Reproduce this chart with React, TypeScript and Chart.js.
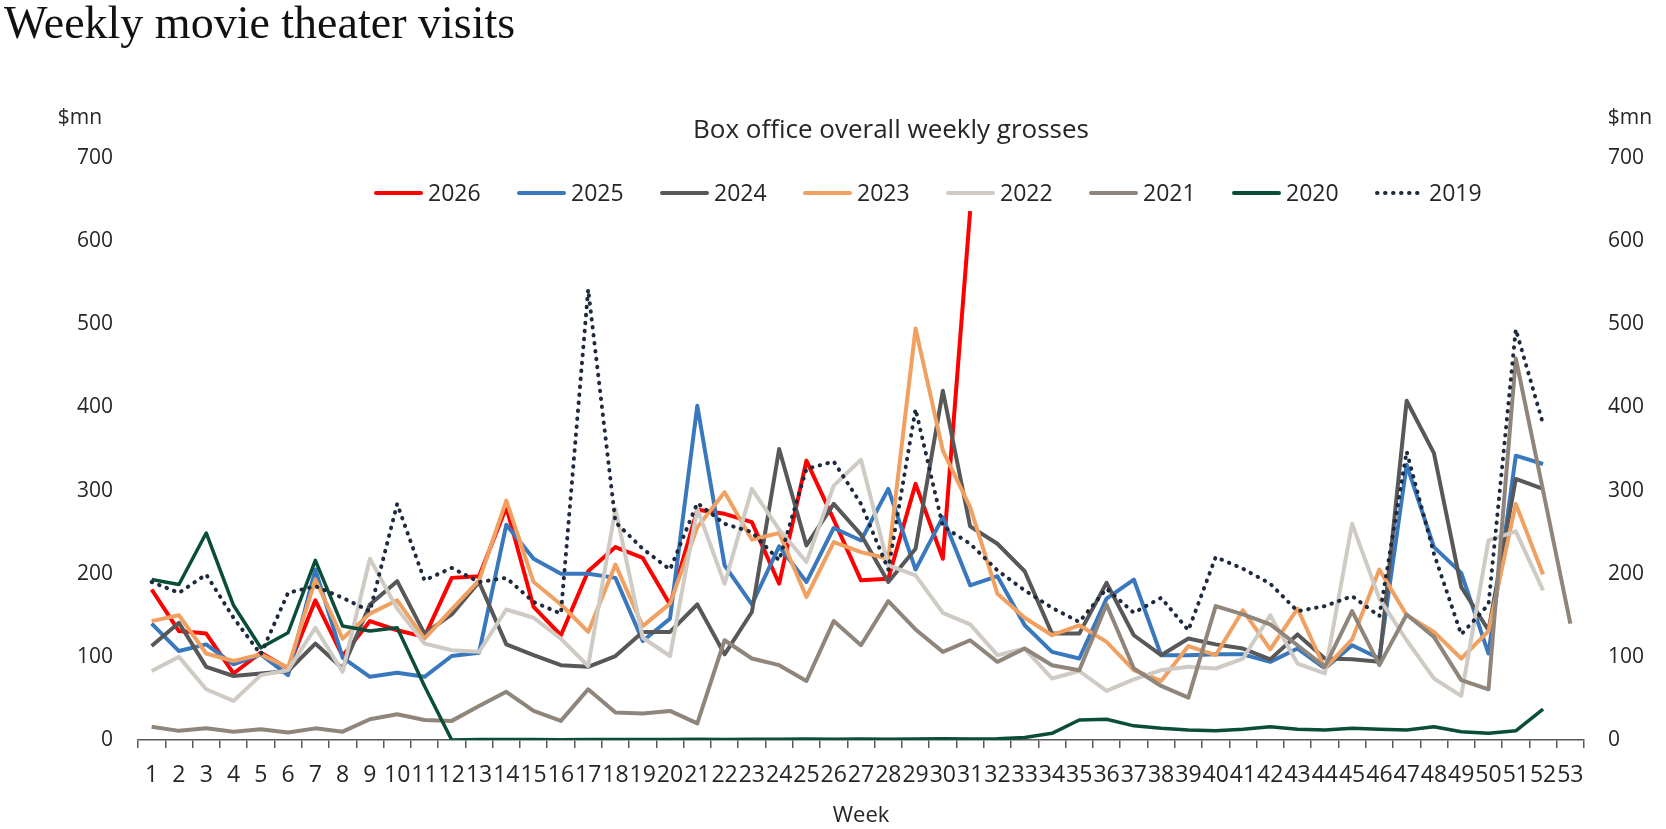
import { useEffect, useRef } from 'react';
import { Chart, registerables } from 'chart.js';

// Register Chart.js components
Chart.register(...registerables);

const chartTitle = 'Weekly movie theater visits';
const subtitle = 'Box office overall weekly grosses';
const unitLabel = '$mn';

const weeks = [
  '1', '2', '3', '4', '5', '6', '7', '8', '9', '10',
  '11', '12', '13', '14', '15', '16', '17', '18', '19', '20',
  '21', '22', '23', '24', '25', '26', '27', '28', '29', '30',
  '31', '32', '33', '34', '35', '36', '37', '38', '39', '40',
  '41', '42', '43', '44', '45', '46', '47', '48', '49', '50',
  '51', '52', '53'
];

const yTicks = [0, 100, 200, 300, 400, 500, 600, 700];

const y2026 = [181, 131, 128, 80, 105, 86, 168, 101, 143, 132, 124, 195, 197, 280, 160, 126, 203, 232, 219, 163, 277, 272, 262, 188, 336, 265, 192, 194, 308, 218, 636];
const y2025 = [140, 107, 115, 91, 103, 78, 205, 99, 76, 81, 76, 101, 105, 259, 218, 200, 200, 195, 119, 146, 402, 210, 163, 233, 190, 255, 240, 302, 205, 268, 186, 197, 138, 106, 98, 170, 193, 102, 102, 103, 103, 94, 110, 86, 114, 98, 331, 232, 201, 104, 342, 332];
const y2024 = [113, 141, 88, 77, 80, 83, 116, 86, 163, 191, 128, 151, 190, 115, 102, 90, 88, 101, 130, 130, 163, 103, 154, 350, 234, 284, 247, 190, 230, 420, 257, 236, 203, 128, 128, 189, 126, 102, 122, 115, 110, 97, 127, 98, 97, 94, 408, 345, 184, 132, 314, 302];
const y2023 = [143, 150, 104, 95, 103, 87, 193, 122, 152, 168, 122, 157, 192, 288, 190, 163, 130, 211, 137, 164, 256, 298, 241, 249, 172, 238, 226, 218, 495, 348, 280, 176, 147, 126, 138, 118, 84, 71, 113, 102, 156, 109, 158, 86, 121, 205, 150, 130, 98, 131, 284, 199];
const y2022 = [83, 100, 61, 47, 78, 84, 135, 82, 218, 158, 116, 108, 106, 157, 147, 122, 89, 278, 123, 101, 278, 188, 302, 253, 214, 306, 337, 210, 198, 153, 139, 102, 110, 74, 83, 59, 73, 84, 88, 86, 98, 150, 92, 80, 260, 170, 120, 74, 53, 240, 251, 180];
const y2021 = [16, 11, 14, 10, 13, 9, 14, 10, 25, 31, 24, 23, 41, 58, 35, 23, 61, 33, 32, 35, 20, 120, 98, 90, 71, 143, 114, 167, 133, 106, 120, 94, 110, 90, 84, 163, 86, 65, 51, 161, 151, 139, 114, 88, 155, 90, 151, 124, 72, 61, 459, 300, 140];
const y2020 = [193, 187, 249, 162, 111, 129, 216, 137, 131, 135, 65, 0, 0.5, 0.6, 0.5, 0.4, 0.5, 0.6, 0.5, 0.6, 0.8, 0.7, 0.9, 1, 1.1, 0.9, 1.2, 1, 1.2, 1.5, 1.3, 1.6, 3, 8, 24, 25, 17, 14, 12, 11, 13, 16, 13, 12, 14, 13, 12, 16, 10, 8, 11, 37];
const y2019 = [190, 177, 199, 147, 103, 177, 185, 171, 155, 284, 192, 207, 190, 195, 166, 152, 542, 262, 230, 205, 285, 260, 250, 216, 326, 335, 284, 205, 398, 257, 236, 204, 180, 159, 142, 182, 153, 171, 132, 220, 206, 188, 155, 161, 173, 149, 347, 224, 127, 163, 494, 380];

const seriesNames = ['2026', '2025', '2024', '2023', '2022', '2021', '2020', '2019'];
const seriesData = [y2026, y2025, y2024, y2023, y2022, y2021, y2020, y2019];
const seriesColors = ['#FF0000', '#3A78BE', '#585858', '#F0A060', '#CFCAC3', '#8F857B', '#0A4D3A', '#1E2A3E'];

const FONT = '"Open Sans", "Noto Sans", sans-serif';
const TEXT = '#262626';

// Draws the "$mn" unit labels, the subtitle and the legend row inside the plot
const overlayPlugin = {
  id: 'overlay',
  afterDraw(chart: any) {
    const { ctx } = chart;
    ctx.save();
    ctx.fillStyle = TEXT;
    ctx.textBaseline = 'middle';
    ctx.textAlign = 'center';
    ctx.font = `21px ${FONT}`;
    ctx.fillText(unitLabel, 80, 118);
    ctx.fillText(unitLabel, 1630, 118);
    ctx.font = `26px ${FONT}`;
    ctx.fillText(subtitle, 891, 131);

    ctx.font = `23px ${FONT}`;
    chart.data.datasets.forEach((ds: any, i: number) => {
      const x = 374 + i * 143;
      const y = 193;
      ctx.strokeStyle = ds.borderColor;
      ctx.lineWidth = 4;
      ctx.lineCap = 'round';
      ctx.setLineDash(ds.borderDash || []);
      ctx.beginPath();
      ctx.moveTo(x + 2, y);
      ctx.lineTo(x + 47, y);
      ctx.stroke();
      ctx.setLineDash([]);
      ctx.textAlign = 'left';
      ctx.fillText(ds.label, x + 54, y + 1);
    });
    ctx.restore();
  }
};

export default function App() {
  const canvasRef = useRef<HTMLCanvasElement>(null);
  const chartRef = useRef<Chart | null>(null);

  useEffect(() => {
    document.body.style.margin = '0';
    if (!canvasRef.current) return;

    if (chartRef.current) {
      chartRef.current.destroy();
    }

    const ctx = canvasRef.current.getContext('2d');
    if (ctx) {
      chartRef.current = new Chart(ctx, {
        type: 'line',
        data: {
          labels: weeks,
          datasets: seriesNames.map((name, i) => ({
            label: name,
            data: seriesData[i],
            borderColor: seriesColors[i],
            backgroundColor: seriesColors[i],
            borderWidth: name === '2020' ? 3.5 : 4,
            borderDash: name === '2019' ? [0.5, 7.5] : undefined,
            borderCapStyle: name === '2019' ? 'round' : 'butt',
            borderJoinStyle: 'round',
            pointRadius: 0,
            pointHoverRadius: 0,
            tension: 0,
            fill: false,
            // first listed series sits at the bottom, as in the original
            order: seriesNames.length - i
          })) as any
        },
        options: {
          responsive: false,
          animation: false,
          layout: { padding: { top: 158, left: 0, right: 0, bottom: 0 } },
          plugins: {
            legend: { display: false },
            title: { display: false },
            tooltip: { enabled: false }
          },
          scales: {
            x: {
              type: 'category',
              offset: true,
              afterFit: (scale: any) => { scale.height = 89; },
              grid: {
                display: true,
                offset: true,
                drawOnChartArea: false,
                drawTicks: true,
                tickLength: 8,
                color: '#595959',
                lineWidth: 1.5
              },
              border: { display: true, color: '#595959', width: 1.5 },
              ticks: {
                autoSkip: false,
                maxRotation: 0,
                minRotation: 0,
                padding: 14,
                color: TEXT,
                font: { family: FONT, size: 23 }
              },
              title: {
                display: true,
                text: 'Week',
                color: TEXT,
                padding: 0,
                font: { family: FONT, size: 22 }
              }
            },
            y: {
              position: 'left',
              min: yTicks[0],
              max: yTicks[yTicks.length - 1],
              afterFit: (scale: any) => { scale.width = 138; },
              afterBuildTicks: (scale: any) => { scale.ticks = yTicks.map(v => ({ value: v })); },
              grid: { display: false, drawTicks: false },
              border: { display: false },
              ticks: { padding: 25, color: TEXT, font: { family: FONT, size: 21 } }
            },
            y2: {
              position: 'right',
              min: yTicks[0],
              max: yTicks[yTicks.length - 1],
              afterFit: (scale: any) => { scale.width = 82; },
              afterBuildTicks: (scale: any) => { scale.ticks = yTicks.map(v => ({ value: v })); },
              grid: { display: false, drawTicks: false },
              border: { display: false },
              ticks: { padding: 24, color: TEXT, font: { family: FONT, size: 21 } }
            }
          }
        },
        plugins: [overlayPlugin]
      });
    }

    return () => {
      if (chartRef.current) {
        chartRef.current.destroy();
        chartRef.current = null;
      }
    };
  }, []);

  return (
    <div style={{ position: 'relative', width: 1666, height: 829, background: '#fff' }}>
      <canvas ref={canvasRef} width={1666} height={829} style={{ position: 'absolute', left: 0, top: 0 }} />
      <div
        style={{
          position: 'absolute',
          left: 4,
          top: 0,
          fontFamily: '"Liberation Serif", "DejaVu Serif", serif',
          fontSize: 46,
          lineHeight: '46px',
          color: '#111',
          whiteSpace: 'nowrap'
        }}
      >
        {chartTitle}
      </div>
    </div>
  );
}
